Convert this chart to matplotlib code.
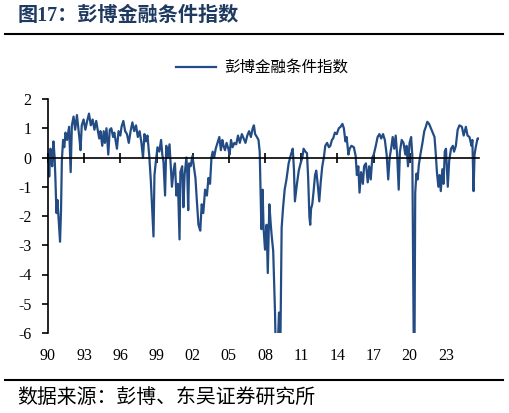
import numpy as np
import matplotlib.pyplot as plt
from matplotlib.lines import Line2D

plt.rcParams['font.family'] = ['Liberation Serif', 'Noto Sans CJK SC']
plt.rcParams['axes.unicode_minus'] = False

# Bloomberg financial conditions index (year fraction, value)
dates = [
    1990.00, 1990.05, 1990.10, 1990.20, 1990.28, 1990.35, 1990.45, 1990.55, 1990.62, 1990.70,
    1990.78, 1990.90, 1991.00, 1991.08, 1991.15, 1991.25, 1991.35, 1991.45, 1991.58, 1991.75,
    1991.88, 1991.98, 1992.12, 1992.25, 1992.40, 1992.52, 1992.62, 1992.70, 1992.80, 1992.95,
    1993.10, 1993.25, 1993.40, 1993.55, 1993.70, 1993.85, 1994.00, 1994.12, 1994.25, 1994.35,
    1994.50, 1994.62, 1994.72, 1994.85, 1995.00, 1995.12, 1995.25, 1995.40, 1995.50, 1995.60,
    1995.72, 1995.85, 1996.00, 1996.10, 1996.25, 1996.40, 1996.55, 1996.70, 1996.85, 1997.00,
    1997.15, 1997.30, 1997.45, 1997.60, 1997.75, 1997.88, 1998.00, 1998.12, 1998.25, 1998.40,
    1998.53, 1998.65, 1998.75, 1998.83, 1998.93, 1999.08, 1999.23, 1999.38, 1999.48, 1999.58,
    1999.71, 1999.81, 1999.93, 2000.08, 2000.18, 2000.28, 2000.43, 2000.53, 2000.65, 2000.78,
    2000.91, 2000.98, 2001.13, 2001.23, 2001.33, 2001.48, 2001.55, 2001.63, 2001.71, 2001.83,
    2001.98, 2002.13, 2002.23, 2002.35, 2002.48, 2002.63, 2002.75, 2002.88, 2003.03, 2003.18,
    2003.31, 2003.44, 2003.56, 2003.66, 2003.78, 2003.91, 2004.06, 2004.21, 2004.34, 2004.46,
    2004.56, 2004.68, 2004.81, 2004.96, 2005.06, 2005.18, 2005.31, 2005.46, 2005.61, 2005.76,
    2005.91, 2006.08, 2006.23, 2006.38, 2006.53, 2006.68, 2006.83, 2006.98, 2007.08, 2007.18,
    2007.33, 2007.46, 2007.56, 2007.63, 2007.70, 2007.80, 2007.88, 2008.00, 2008.13, 2008.23,
    2008.36, 2008.48, 2008.56, 2008.68, 2008.83, 2008.93, 2009.03, 2009.16, 2009.26, 2009.38,
    2009.50, 2009.63, 2009.78, 2009.96, 2010.15, 2010.30, 2010.40, 2010.48, 2010.65, 2010.80,
    2010.95, 2011.10, 2011.20, 2011.35, 2011.48, 2011.58, 2011.68, 2011.75, 2011.82, 2011.92,
    2012.02, 2012.15, 2012.25, 2012.38, 2012.50, 2012.62, 2012.75, 2012.88, 2013.00, 2013.15,
    2013.30, 2013.42, 2013.55, 2013.65, 2013.80, 2013.95, 2014.12, 2014.27, 2014.42, 2014.54,
    2014.67, 2014.77, 2014.92, 2015.02, 2015.17, 2015.37, 2015.52, 2015.62, 2015.74, 2015.84,
    2015.97, 2016.12, 2016.22, 2016.37, 2016.52, 2016.64, 2016.77, 2016.90, 2017.02, 2017.19,
    2017.34, 2017.49, 2017.64, 2017.79, 2017.94, 2018.09, 2018.22, 2018.34, 2018.46, 2018.59,
    2018.72, 2018.84, 2018.96, 2019.09, 2019.19, 2019.34, 2019.49, 2019.64, 2019.74, 2019.86,
    2019.99, 2020.12, 2020.22, 2020.34, 2020.40, 2020.46, 2020.56, 2020.66, 2020.76, 2020.91,
    2021.06, 2021.21, 2021.34, 2021.46, 2021.61, 2021.76, 2021.91, 2022.06, 2022.16, 2022.26,
    2022.38, 2022.48, 2022.58, 2022.71, 2022.81, 2022.91, 2023.01, 2023.16, 2023.28, 2023.43,
    2023.58, 2023.68, 2023.83, 2023.98, 2024.13, 2024.33, 2024.48, 2024.66, 2024.80, 2024.96,
    2025.13, 2025.20, 2025.30, 2025.38, 2025.48, 2025.63, 2025.73,
]
fci = [
    -0.55, -0.10, -0.65, 0.30, -0.10, -0.30, 0.55, 0.00, -0.80, -1.90,
    -1.45, -2.25, -2.88, -1.80, -0.10, 0.60, 0.35, 0.85, 0.60, 1.05,
    -0.50, 1.10, 1.40, 0.95, 1.45, 1.00, 0.60, 0.25, 1.10, 1.30,
    0.95, 1.25, 1.50, 1.10, 1.30, 0.95, 1.25, 0.95, 0.65, 0.90,
    0.40, 0.90, 0.50, 1.00, 0.10, 0.95, 1.00, 0.70, 0.85, 0.60,
    0.30, 0.90, 0.75, 1.05, 1.25, 0.90, 0.80, 0.50, 0.90, 1.20,
    0.90, 1.10, 0.70, 0.90, 0.50, 0.00, 0.80, 0.55, 0.75, 0.05,
    -0.80, -1.80, -2.70, -0.60, -0.20, 0.35, 0.20, 0.60, 0.10, -0.15,
    -1.30, 0.40, 0.00, 0.45, -0.30, -1.00, -0.40, -0.20, -1.30, -0.90,
    -2.80, -0.50, -0.30, -1.70, -0.60, 0.00, -0.50, -1.80, -0.20, -0.30,
    0.05, -0.40, -0.70, -1.50, -2.30, -2.50, -1.60, -1.90, -1.10, -1.30,
    -0.70, -0.90, 0.00, 0.20, 0.00, 0.30, 0.50, 0.70, 0.25, 0.60,
    0.40, 0.25, 0.50, 0.30, 0.10, 0.60, 0.35, 0.50, 0.45, 0.75,
    0.50, 0.80, 0.65, 0.50, 0.75, 0.90, 0.70, 1.00, 1.10, 0.80,
    0.70, 0.60, 0.20, -1.20, -2.45, -1.10, -2.40, -3.15, -2.30, -3.95,
    -1.60, -2.30, -2.70, -3.20, -5.30, -7.50, -6.80, -5.30, -7.00, -2.40,
    -1.70, -1.10, -0.75, -0.20, 0.10, 0.30, -0.40, -1.50, -0.90, -0.45,
    -0.20, 0.00, 0.30, 0.20, 0.15, -0.70, -2.00, -2.30, -1.75, -1.60,
    -1.20, -0.60, -0.45, -0.95, -1.50, -0.85, -0.30, 0.00, 0.40, 0.50,
    0.35, 0.40, 0.60, 0.65, 0.85, 0.80, 1.00, 1.05, 1.15, 1.00,
    0.55, 0.70, 0.10, 0.30, 0.40, 0.35, 0.05, -0.60, -0.30, -1.20,
    -0.50, -0.90, -0.30, -0.20, -0.85, -0.30, -0.75, 0.00, 0.10, 0.40,
    0.70, 0.80, 0.65, 0.80, 0.60, 0.10, -0.75, 0.00, 0.30, 0.70,
    0.30, 0.75, 0.10, -1.10, 0.20, 0.60, 0.50, 0.10, 0.40, -0.30,
    0.50, 0.70, 0.05, -6.60, -6.60, -1.20, -0.55, -0.75, -0.25, 0.15,
    0.50, 0.90, 1.05, 1.22, 1.15, 1.00, 0.85, 0.70, 0.15, -0.50,
    -1.00, -0.60, -1.15, -0.40, -0.90, 0.20, 0.30, -1.00, -0.10, 0.30,
    0.40, 0.20, 0.40, 0.95, 1.10, 1.05, 0.75, 1.05, 0.75, 0.70,
    0.40, 0.60, -1.15, 0.10, 0.35, 0.65, 0.65,
]

x_ticks = list(range(1990, 2024, 3))
x_labels = [f"{y % 100:02d}" for y in x_ticks]
y_ticks = [2, 1, 0, -1, -2, -3, -4, -5, -6]

W, H = 510, 413
fig = plt.figure(figsize=(W / 100, H / 100), dpi=100)
ax = fig.add_axes([48 / W, 1 - 333 / H, (479 - 48) / W, (333 - 99) / H])

ax.plot(dates, fci, color='#234C84', lw=1.6, label='彭博金融条件指数')
ax.set_xlim(1990, 2025.75)
ax.set_ylim(-6, 2)

for s in ['top', 'right']:
    ax.spines[s].set_visible(False)
ax.spines['bottom'].set_position(('data', 0))
ax.spines['bottom'].set_linewidth(1.2)
ax.spines['left'].set_linewidth(1.2)

ax.set_xticks(x_ticks)
ax.tick_params(axis='x', direction='inout', length=7, width=1.2, labelbottom=False)
ax.set_yticks(y_ticks)
ax.tick_params(axis='y', direction='out', length=4, width=1.2, pad=8, labelsize=11.5)

# tick labels sit under the plot, not on the zero line
sec = ax.secondary_xaxis('bottom')
sec.set_xticks(x_ticks, x_labels)
sec.tick_params(length=0, pad=11, labelsize=11.5)
sec.spines['bottom'].set_visible(False)

ax.legend(loc='center', bbox_to_anchor=(262 / W, 1 - 68 / H), bbox_transform=fig.transFigure,
          frameon=False, handlelength=2.6, handletextpad=0.5, fontsize=11.2)

fig.text(18 / W, 1 - 16 / H, '图17：彭博金融条件指数', fontsize=14.5, fontweight='bold',
         color='#1F3A60', va='center')
fig.add_artist(Line2D([5 / W, 503 / W], [1 - 34 / H] * 2, color='black', lw=1.5))
fig.add_artist(Line2D([5 / W, 503 / W], [1 - 380 / H] * 2, color='black', lw=1.5))
fig.text(17 / W, 1 - 398 / H, '数据来源：彭博、东吴证券研究所', fontsize=14.3, va='center')

fig.savefig('out.png', dpi=100)
